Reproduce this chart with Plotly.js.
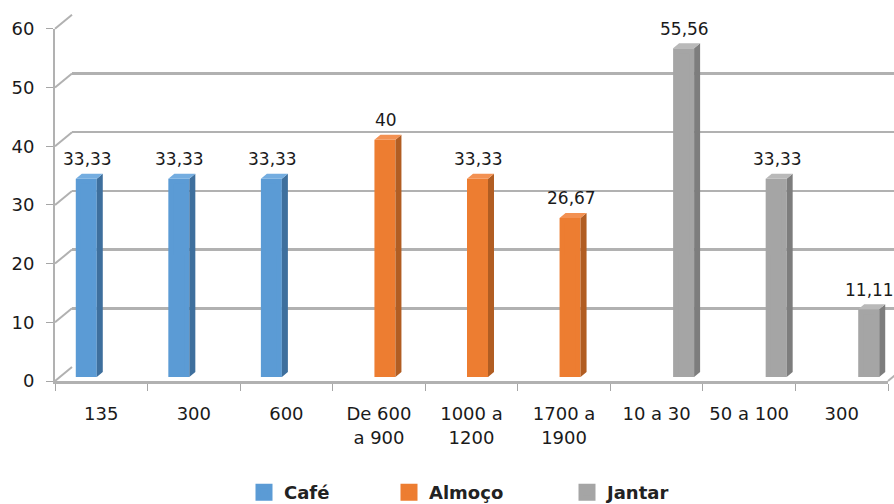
<!DOCTYPE html>
<html>
<head>
<meta charset="utf-8">
<script src="https://cdn.plot.ly/plotly-3.0.1.min.js"></script>
<style>
  html, body { margin: 0; padding: 0; background: #ffffff; }
  #chart { width: 894px; height: 504px; }
</style>
</head>
<body>
<div id="chart"></div>
<script>
// Category labels along the bottom axis
const categories = ['135', '300', '600', 'De 600<br>a 900', '1000 a<br>1200', '1700 a<br>1900', '10 a 30', '50 a 100', '300'];

// Percentages per meal (null where the meal has no bar in that category)
const cafe   = [33.33, 33.33, 33.33, null, null, null, null, null, null];
const almoco = [null, null, null, 40, 33.33, 26.67, null, null, null];
const jantar = [null, null, null, null, null, null, 55.56, 33.33, 11.11];

const seriesNames = ['Café', 'Almoço', 'Jantar'];
const yTicks = [0, 10, 20, 30, 40, 50, 60];

// ---- geometry of the pseudo-3D box (pixels) ----
const W = 894, H = 504;
const Y_MAX = 60;
const PX_PER_UNIT = 5.87;
const SPAN = Y_MAX * PX_PER_UNIT;

const frontLeft = 55, frontRight = 888, frontBase = 381;   // front frame
const backLeft = 72, backBase = 367;                         // back wall
const barLeft = 61, barBase = 377;                            // bar plane
const depthX = 6, depthY = 5;                                 // bar depth
const edge = 5;                                               // bar outline width

const fx = px => px / W;
const fy = py => 1 - py / H;

const nCat = categories.length;
const unitX = (W - barLeft) / nCat;          // pixels per category on bar axis
const faceW = 21 / unitX;                     // visible front face width (data units)
const slot = [-1, 0, 1];                      // group position per series

const front = ['#5b9bd5', '#ed7d31', '#a5a5a5'];
const side  = ['#3e6f9d', '#b15d22', '#7d7d7d'];
const top3d = ['#74ade0', '#f39152', '#b9b9b9'];

const allSeries = [cafe, almoco, jantar];
const idx = categories.map((_, i) => i);

const FONT = '"DejaVu Sans", Verdana, sans-serif';
const traces = [];
const annotations = [];
const dxu = depthX / unitX;
const dyu = depthY / PX_PER_UNIT;
const ex = (edge / 2) / unitX;
const ey = (edge / 2) / PX_PER_UNIT;
const legendIds = ['legend', 'legend2', 'legend3'];

allSeries.forEach((vals, s) => {
  const off = slot[s] * faceW - faceW / 2;
  // front faces (outline in the same colour widens the legend swatch)
  traces.push({
    type: 'bar', x: idx, y: vals, xaxis: 'x3', yaxis: 'y3',
    name: seriesNames[s], width: faceW - 2 * ex, offset: off + ex,
    marker: { color: front[s], line: { width: edge, color: front[s] } },
    hoverinfo: 'y', showlegend: true, legend: legendIds[s]
  });
  // side and top faces
  const sx = [], sy = [], tx = [], ty = [];
  vals.forEach((v, i) => {
    if (v === null) return;
    const xl = i + off, xr = xl + faceW;
    const vt = v + ey;
    sx.push(xr, xr + dxu, xr + dxu, xr, xr, null);
    sy.push(0, dyu, vt + dyu, vt, 0, null);
    tx.push(xl, xl + dxu, xr + dxu, xr, xl, null);
    ty.push(vt, vt + dyu, vt + dyu, vt, vt, null);
    annotations.push({
      xref: 'x3', yref: 'y3', x: i + off + faceW / 2 + 1 / unitX, y: v,
      text: Number.isInteger(v) ? String(v) : v.toFixed(2).replace('.', ','),
      showarrow: false, yanchor: 'middle', yshift: 22,
      font: { family: FONT, size: 17, color: '#1a1a1a' }
    });
  });
  traces.push({
    type: 'scatter', mode: 'lines', x: sx, y: sy, xaxis: 'x3', yaxis: 'y3',
    fill: 'toself', fillcolor: side[s], line: { width: 0, color: side[s] },
    hoverinfo: 'skip', showlegend: false
  });
  traces.push({
    type: 'scatter', mode: 'lines', x: tx, y: ty, xaxis: 'x3', yaxis: 'y3',
    fill: 'toself', fillcolor: top3d[s], line: { width: 0, color: top3d[s] },
    hoverinfo: 'skip', showlegend: false
  });
});

// empty traces so the back-wall and front-frame subplots are built
traces.unshift(
  { type: 'scatter', x: [], y: [], xaxis: 'x', yaxis: 'y', hoverinfo: 'skip', showlegend: false },
  { type: 'scatter', x: [], y: [], xaxis: 'x2', yaxis: 'y2', hoverinfo: 'skip', showlegend: false }
);

// slanted connectors between the front frame and the back wall
const gridColor = '#b1b1b1';
const shapes = yTicks.map(t => ({
  type: 'line', xref: 'paper', yref: 'paper',
  x0: fx(frontLeft), y0: fy(frontBase - t * PX_PER_UNIT),
  x1: fx(backLeft), y1: fy(backBase - t * PX_PER_UNIT),
  line: { color: gridColor, width: 2 }
}));
shapes.push({
  type: 'line', xref: 'paper', yref: 'paper',
  x0: fx(frontRight), y0: fy(frontBase),
  x1: fx(frontRight + (backLeft - frontLeft)), y1: fy(backBase),
  line: { color: gridColor, width: 2 }
});

const boundaries = [];
for (let i = 0; i <= nCat; i++) boundaries.push(i - 0.5);

const tickFont = { family: FONT, size: 18, color: '#1a1a1a' };
const legendFont = { family: FONT, size: 18, color: '#222222', weight: 'bold' };
const legendBase = { orientation: 'h', xanchor: 'left', y: fy(474), yanchor: 'top',
                     font: legendFont, bgcolor: 'rgba(0,0,0,0)' };

const layout = {
  width: W, height: H, autosize: false,
  margin: { l: 0, r: 0, t: 0, b: 0, autoexpand: false },
  paper_bgcolor: '#ffffff', plot_bgcolor: 'rgba(0,0,0,0)',
  barmode: 'overlay',
  // back wall with gridlines
  xaxis: { domain: [fx(backLeft), 1], anchor: 'y', range: [0, 1],
           showgrid: false, zeroline: false, showline: false, showticklabels: false, ticks: '' },
  yaxis: { domain: [fy(backBase), fy(backBase - SPAN)], anchor: 'x', range: [0, Y_MAX],
           tickmode: 'array', tickvals: yTicks, showgrid: true, gridcolor: gridColor, gridwidth: 2.5,
           zeroline: false, showline: false, showticklabels: false, ticks: '' },
  // front frame: axis lines, ticks and labels
  xaxis2: { domain: [fx(frontLeft), fx(frontRight)], anchor: 'y2', range: [-0.5, nCat - 0.5],
            tickmode: 'array', tickvals: idx, ticktext: categories, ticks: '',
            ticklabelstandoff: 15, tickfont: tickFont,
            minor: { tickmode: 'array', tickvals: boundaries, ticks: 'outside', ticklen: 7,
                     tickcolor: '#a6a6a6', tickwidth: 1, showgrid: false },
            showline: true, linecolor: gridColor, linewidth: 2.5,
            showgrid: false, zeroline: false, fixedrange: true },
  yaxis2: { domain: [fy(frontBase), fy(frontBase - SPAN)], anchor: 'x2', range: [0, Y_MAX],
            tickmode: 'array', tickvals: yTicks, ticks: 'outside', ticklen: 7, tickcolor: '#a6a6a6', tickwidth: 1,
            ticklabelstandoff: 8, tickfont: tickFont,
            showline: true, linecolor: gridColor, linewidth: 2,
            showgrid: false, zeroline: false, fixedrange: true },
  // bar plane
  xaxis3: { domain: [fx(barLeft), 1], anchor: 'y3', range: [-0.5, nCat - 0.5], visible: false },
  yaxis3: { domain: [fy(barBase), fy(barBase - SPAN)], anchor: 'x3', range: [0, Y_MAX], visible: false },
  shapes: shapes,
  annotations: annotations,
  showlegend: true,
  legend:  Object.assign({}, legendBase, { x: fx(244) }),
  legend2: Object.assign({}, legendBase, { x: fx(389) }),
  legend3: Object.assign({}, legendBase, { x: fx(567) })
};

Plotly.newPlot('chart', traces, layout, { displayModeBar: false, staticPlot: true });
</script>
</body>
</html>
